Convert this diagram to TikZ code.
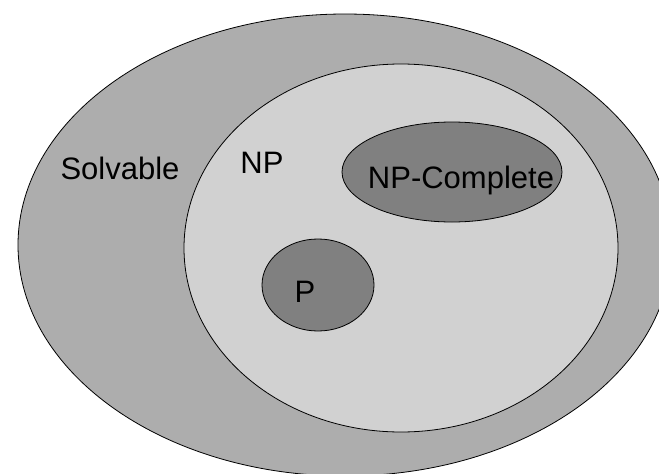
\documentclass[tikz,border=0pt]{standalone}
\usepackage{fontspec}
\setmainfont{Liberation Sans}
\usetikzlibrary{shapes.geometric}
\definecolor{solvgray}{HTML}{ADADAD}
\definecolor{npgray}{HTML}{D1D1D1}
\definecolor{classgray}{HTML}{808080}
\begin{document}
\begin{tikzpicture}[x=1pt,y=-1pt,
  region/.style={ellipse, draw=black, line width=0.8pt, inner sep=0pt},
  lbl/.style={anchor=base, font=\fontsize{31}{37}\selectfont, inner sep=0pt}]
\useasboundingbox (0,0) rectangle (659,474);
\clip (0,0) rectangle (659,474);
% nested complexity classes
\node[region, fill=solvgray, minimum width=654, minimum height=462] (solvable) at (345,245) {};
\node[region, fill=npgray, minimum width=434, minimum height=368] (np) at (401,248) {};
\node[region, fill=classgray, minimum width=220, minimum height=100] (npc) at (452,172) {};
\node[region, fill=classgray, minimum width=112, minimum height=92] (p) at (318,285) {};
% class names
\node[lbl] (tsolv) at (120,179) {Solvable};
\node[lbl] (tnp) at (262,173) {NP};
\node[lbl] (tnpc) at (461,188) {NP-Complete};
\node[lbl] (tp) at (305,302) {P};
\end{tikzpicture}
\end{document}
